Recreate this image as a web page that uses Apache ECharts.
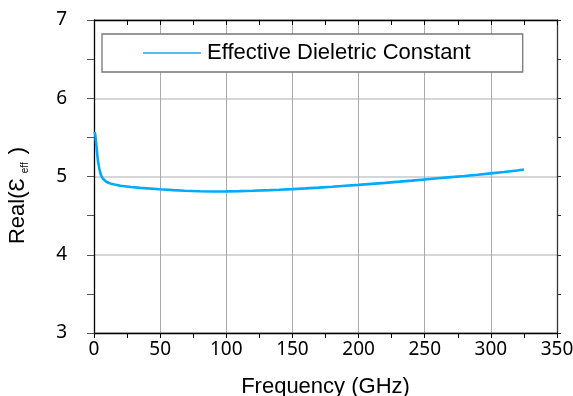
<!DOCTYPE html>
<html>
<head>
<meta charset="utf-8">
<script src="https://cdn.jsdelivr.net/npm/echarts@6/dist/echarts.min.js"></script>
<style>html,body{margin:0;padding:0;background:#fff;overflow:hidden}#c{position:absolute;left:0;top:0;width:573px;height:396px}</style>
</head>
<body>
<div id="c"></div>
<script>
var freq = [0.5, 1, 1.8, 2.4, 3, 3.6, 4.2, 4.8, 5.5, 6.8, 8, 9.3, 11, 13, 15.6, 20, 28, 35, 49.5, 60, 68.5, 80, 90, 100, 110, 120, 133, 140, 150, 160, 170, 180, 190, 200, 210, 220, 231, 240, 250, 260, 270, 280, 290, 300, 310, 320, 325];
var epsReal = [5.57, 5.53, 5.40, 5.29, 5.20, 5.14, 5.09, 5.045, 5.01, 4.97, 4.948, 4.933, 4.92, 4.908, 4.897, 4.882, 4.865, 4.855, 4.838, 4.826, 4.818, 4.811, 4.809, 4.81, 4.813, 4.818, 4.826, 4.831, 4.839, 4.848, 4.858, 4.869, 4.881, 4.893, 4.906, 4.919, 4.934, 4.947, 4.962, 4.977, 4.992, 5.007, 5.023, 5.04, 5.057, 5.077, 5.09];
var seriesName = 'Effective Dieletric Constant';
var xTicks = [0, 50, 100, 150, 200, 250, 300, 350];
var yTicks = [3, 4, 5, 6, 7];

var chart = echarts.init(document.getElementById('c'), null, {renderer: 'canvas', width: 573, height: 396});
var data = freq.map(function (f, i) { return [f, epsReal[i]]; });
var tickFont = {fontFamily: 'Noto Sans', fontSize: 19, color: '#000'};
chart.setOption({
  animation: false,
  grid: {left: 94, right: 16, top: 20, bottom: 63, containLabel: false, outerBoundsMode: 'none'},
  legend: {
    left: 102, top: 34,
    padding: [8, 52, 8, 41],
    borderColor: '#777', borderWidth: 1.3,
    backgroundColor: '#fff',
    itemWidth: 58, itemHeight: 1.5, itemGap: 0,
    icon: 'rect',
    textStyle: {fontFamily: 'Liberation Sans', fontSize: 22, lineHeight: 22, color: '#000', padding: [0, 0, 0, 1]},
    data: [{name: seriesName, itemStyle: {color: '#1ea6ee'}}]
  },
  xAxis: [{
    type: 'value', min: xTicks[0], max: xTicks[xTicks.length - 1], interval: 50,
    name: 'Frequency (GHz)', nameLocation: 'middle', nameGap: 43,
    nameTextStyle: {fontFamily: 'Liberation Sans', fontSize: 22, color: '#000'},
    axisLine: {show: true, onZero: false, lineStyle: {color: '#000', width: 1.3}},
    axisTick: {show: true, length: 5, lineStyle: {color: '#000'}},
    minorTick: {show: true, splitNumber: 2, length: 5, lineStyle: {color: '#000'}},
    axisLabel: Object.assign({margin: 7}, tickFont),
    splitLine: {show: true, lineStyle: {color: '#aaa', width: 1}}
  }, {
    type: 'value', position: 'top', min: xTicks[0], max: xTicks[xTicks.length - 1], interval: 50,
    axisLine: {show: true, onZero: false, lineStyle: {color: '#000', width: 1.3}},
    axisTick: {show: true, inside: true, length: 5, lineStyle: {color: '#000'}},
    minorTick: {show: true, splitNumber: 2, length: 5, lineStyle: {color: '#000'}},
    axisLabel: {show: false}, splitLine: {show: false}
  }],
  yAxis: [{
    type: 'value', min: yTicks[0], max: yTicks[yTicks.length - 1], interval: 1,
    name: '{n|Real(Ɛ}{s|eff}{n| )}{p|}', nameLocation: 'middle', nameGap: 64, nameRotate: 90,
    nameTextStyle: {rich: {
      n: {fontFamily: 'Liberation Sans', fontSize: 22, color: '#000'},
      s: {fontFamily: 'Liberation Sans', fontSize: 10, color: '#000', verticalAlign: 'bottom', padding: [14, 2, 0, 5]},
      p: {width: 38}
    }},
    axisLine: {show: true, onZero: false, lineStyle: {color: '#000', width: 1.3}},
    axisTick: {show: true, length: 7, lineStyle: {color: '#555'}},
    minorTick: {show: true, splitNumber: 2, length: 7, lineStyle: {color: '#555'}},
    axisLabel: Object.assign({margin: 27}, tickFont),
    splitLine: {show: true, lineStyle: {color: '#c8c8c8', width: 1.5}}
  }, {
    type: 'value', position: 'right', min: yTicks[0], max: yTicks[yTicks.length - 1], interval: 1,
    axisLine: {show: true, onZero: false, lineStyle: {color: '#333', width: 1.3}},
    axisTick: {show: true, length: 4, lineStyle: {color: '#333'}},
    minorTick: {show: true, splitNumber: 2, length: 4, lineStyle: {color: '#333'}},
    axisLabel: {show: false}, splitLine: {show: false}
  }],
  series: [{
    name: seriesName, type: 'line', data: data, smooth: false, showSymbol: false,
    lineStyle: {color: '#00aaff', width: 2.6},
    itemStyle: {color: '#00aaff'}
  }]
});
</script>
</body>
</html>
